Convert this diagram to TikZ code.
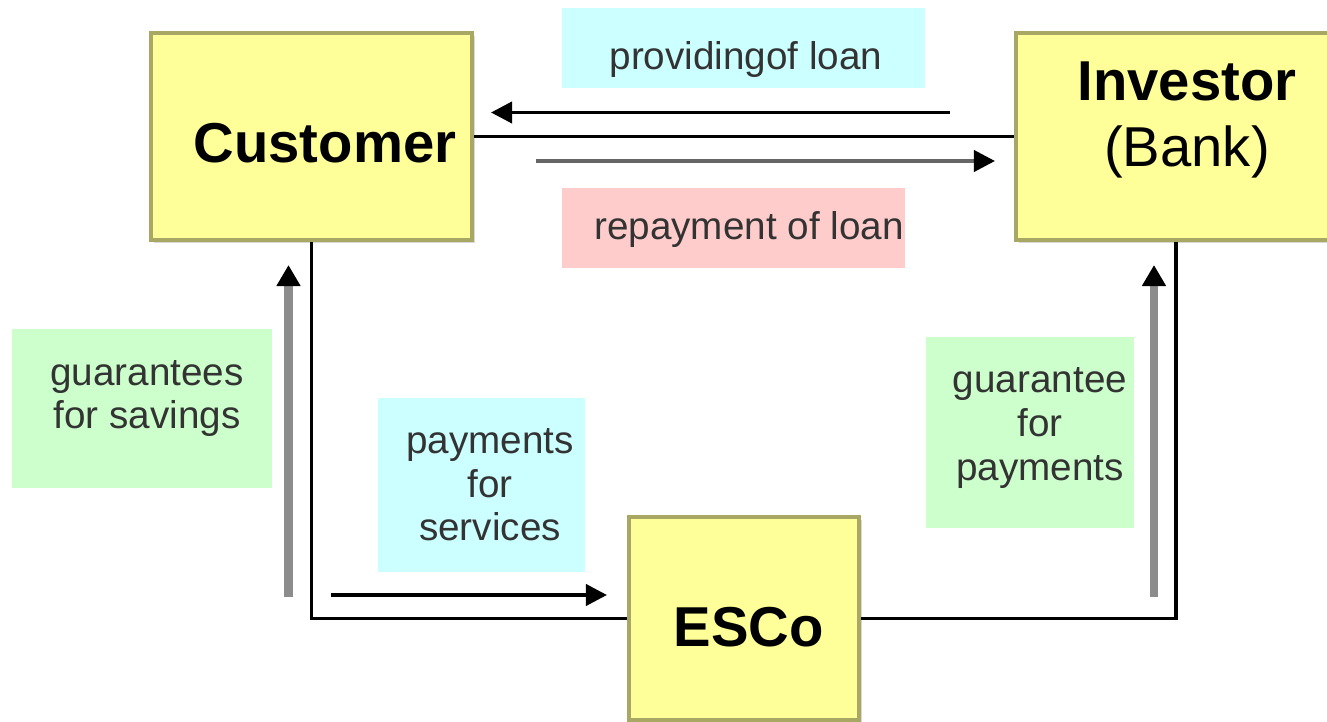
\documentclass[tikz,border=0pt]{standalone}
\usepackage{fontspec}
\setmainfont{Liberation Sans}
\usetikzlibrary{arrows.meta, shadows}

\definecolor{boxfill}{RGB}{255,255,153}
\definecolor{boxedge}{RGB}{168,168,100}
\definecolor{notecyan}{RGB}{204,255,255}
\definecolor{notepink}{RGB}{255,204,204}
\definecolor{notegreen}{RGB}{204,255,204}

\tikzset{
  entity/.style={draw=boxedge, fill=boxfill, line width=1pt, inner sep=0pt,
    drop shadow={shadow xshift=0.03cm, shadow yshift=-0.03cm, fill=black!15, opacity=1}},
  entitytext/.style={inner sep=0pt, align=center, font=\fontsize{16}{18.8}\selectfont\bfseries},
  note/.style={inner sep=0pt},
  notetext/.style={inner sep=0pt, align=center, text=black!80, font=\fontsize{11}{12.4}\selectfont},
  link/.style={line width=1pt},
  flow/.style={line width=1.1pt, -{Triangle[length=6pt, width=6pt]}},
  backflow/.style={line width=2.3pt, draw=black!45, -{Triangle[length=6pt, width=6.5pt, color=black]}}
}

\begin{document}
\begin{tikzpicture}
    \useasboundingbox (0,0) rectangle (13.27,-7.22);

    % Draw the three parties
    \node[entity, minimum width=3.21cm, minimum height=2.07cm,
      label={[entitytext, shift={(0.135,-0.065)}]center:Customer}] (cust) at (3.115,-1.365) {};
    \node[entity, minimum width=3.2cm, minimum height=2.07cm,
      label={[entitytext, shift={(0.11,0.165)}]center:Investor\\\mdseries(Bank)}] (inv) at (11.76,-1.365) {};
    \node[entity, minimum width=2.3cm, minimum height=2.03cm,
      label={[entitytext, shift={(0.045,-0.085)}]center:ESCo}] (esco) at (7.44,-6.185) {};

    % Draw the links between the parties
    \draw[link] (cust) -- (inv);
    \draw[link] (cust.south) |- (esco.west);
    \draw[link] (inv.south) |- (esco.east);

    % Draw the labels
    \node[note, fill=notecyan, minimum width=3.63cm, minimum height=0.8cm,
      label={[notetext, shift={(0.025,-0.12)}]center:providingof loan}] (loan) at (7.435,-0.48) {};
    \node[note, fill=notepink, minimum width=3.43cm, minimum height=0.8cm,
      label={[notetext, shift={(0.155,-0.02)}]center:repayment of loan}] (repay) at (7.335,-2.28) {};
    \node[note, fill=notegreen, minimum width=2.6cm, minimum height=1.59cm,
      label={[notetext, shift={(0.05,0.10)}]center:guarantees\\for savings}] (savings) at (1.42,-4.085) {};
    \node[note, fill=notecyan, minimum width=2.07cm, minimum height=1.74cm,
      label={[notetext, shift={(0.085,0)}]center:payments\\for\\services}] (services) at (4.815,-4.85) {};
    \node[note, fill=notegreen, minimum width=2.08cm, minimum height=1.91cm,
      label={[notetext, shift={(0.10,0.045)}]center:guarantee\\for\\payments}] (guarpay) at (10.30,-4.325) {};

    % Draw the flows
    \coordinate (loanA) at (9.50,-1.125);
    \coordinate (loanB) at (4.91,-1.125);
    \coordinate (repayA) at (5.36,-1.61);
    \coordinate (repayB) at (9.95,-1.61);
    \coordinate (servA) at (3.31,-5.95);
    \coordinate (servB) at (6.07,-5.95);
    \coordinate (savA) at (2.885,-5.97);
    \coordinate (savB) at (2.885,-2.65);
    \coordinate (payA) at (11.54,-5.97);
    \coordinate (payB) at (11.54,-2.65);

    \draw[flow] (loanA) -- (loanB);
    \draw[flow, draw=black!60, -{Triangle[length=6pt, width=6pt, color=black]}] (repayA) -- (repayB);
    \draw[flow] (servA) -- (servB);
    \draw[backflow] (savA) -- (savB);
    \draw[backflow] (payA) -- (payB);

\end{tikzpicture}
\end{document}
